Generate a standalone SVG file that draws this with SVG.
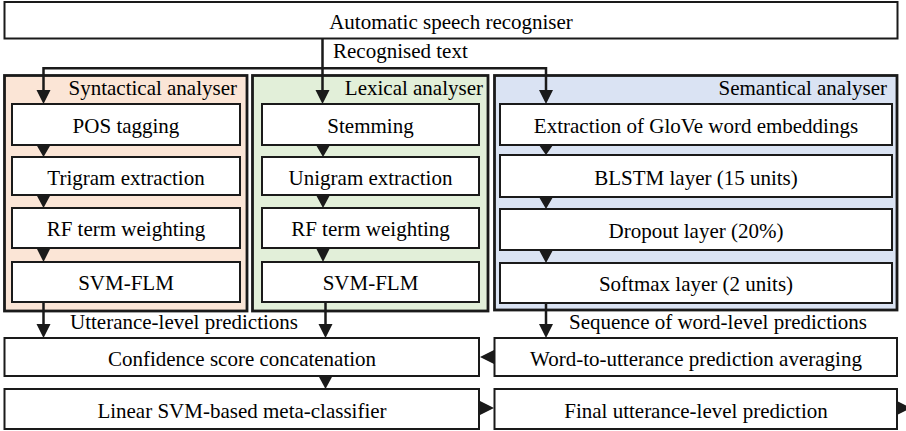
<svg xmlns="http://www.w3.org/2000/svg" width="906" height="431" viewBox="0 0 906 431">
<style>
.box{fill:#fff;stroke:#1a1a1a;stroke-width:2}
.grp{stroke:#1a1a1a;stroke-width:2.8}
.ln{fill:none;stroke:#1a1a1a;stroke-width:2.5}
.ah{fill:#1a1a1a;stroke:none}
</style>
<rect width="906" height="431" fill="#fff"/>

<g id="asr">
<rect class="box" x="4.5" y="2" width="893" height="36.5"/>
<text x="451" y="29" text-anchor="middle" font-family="Liberation Serif" font-size="21">Automatic speech recogniser</text>
</g>

<g id="syntactical">
<rect class="grp" x="4.5" y="75.5" width="242.5" height="235.5" fill="#fbe5d6"/>
<text x="237" y="95" text-anchor="end" font-family="Liberation Serif" font-size="21">Syntactical analyser</text>
<g id="pos"><rect class="box" x="12" y="104" width="228" height="41"/><text x="126" y="133" text-anchor="middle" font-family="Liberation Serif" font-size="21">POS tagging</text></g>
<g id="trigram"><rect class="box" x="12" y="157" width="228" height="38"/><text x="126" y="185" text-anchor="middle" font-family="Liberation Serif" font-size="21">Trigram extraction</text></g>
<g id="rf1"><rect class="box" x="12" y="208" width="228" height="40"/><text x="126" y="236" text-anchor="middle" font-family="Liberation Serif" font-size="21">RF term weighting</text></g>
<g id="svm1"><rect class="box" x="12" y="262" width="228" height="40"/><text x="126" y="290" text-anchor="middle" font-family="Liberation Serif" font-size="21">SVM-FLM</text></g>
</g>

<g id="lexical">
<rect class="grp" x="252.5" y="75.5" width="235.5" height="235.5" fill="#e2efd9"/>
<text x="483" y="95" text-anchor="end" font-family="Liberation Serif" font-size="21">Lexical analyser</text>
<g id="stem"><rect class="box" x="262" y="104" width="217" height="41"/><text x="370.5" y="133" text-anchor="middle" font-family="Liberation Serif" font-size="21">Stemming</text></g>
<g id="unigram"><rect class="box" x="262" y="157" width="217" height="38"/><text x="370.5" y="185" text-anchor="middle" font-family="Liberation Serif" font-size="21">Unigram extraction</text></g>
<g id="rf2"><rect class="box" x="262" y="208" width="217" height="40"/><text x="370.5" y="236" text-anchor="middle" font-family="Liberation Serif" font-size="21">RF term weighting</text></g>
<g id="svm2"><rect class="box" x="262" y="262" width="217" height="40"/><text x="370.5" y="290" text-anchor="middle" font-family="Liberation Serif" font-size="21">SVM-FLM</text></g>
</g>

<g id="semantical">
<rect class="grp" x="494.5" y="75.5" width="402.5" height="234.5" fill="#dae3f3"/>
<text x="887" y="95" text-anchor="end" font-family="Liberation Serif" font-size="21">Semantical analyser</text>
<g id="glove"><rect class="box" x="500" y="104" width="392" height="41"/><text x="696" y="133" text-anchor="middle" font-family="Liberation Serif" font-size="21">Extraction of GloVe word embeddings</text></g>
<g id="blstm"><rect class="box" x="500" y="155" width="392" height="42"/><text x="696" y="185" text-anchor="middle" font-family="Liberation Serif" font-size="21">BLSTM layer (15 units)</text></g>
<g id="dropout"><rect class="box" x="500" y="209" width="392" height="41"/><text x="696" y="238" text-anchor="middle" font-family="Liberation Serif" font-size="21">Dropout layer (20%)</text></g>
<g id="softmax"><rect class="box" x="500" y="263" width="392" height="40"/><text x="696" y="291" text-anchor="middle" font-family="Liberation Serif" font-size="21">Softmax layer (2 units)</text></g>
</g>

<g id="concat">
<rect class="box" x="4.5" y="338" width="474.5" height="38"/>
<text x="242" y="366" text-anchor="middle" font-family="Liberation Serif" font-size="21">Confidence score concatenation</text>
</g>
<g id="averaging">
<rect class="box" x="494.5" y="338" width="402.5" height="38"/>
<text x="696" y="366" text-anchor="middle" font-family="Liberation Serif" font-size="21">Word-to-utterance prediction averaging</text>
</g>
<g id="meta">
<rect class="box" x="4.5" y="389" width="474.5" height="40"/>
<text x="242" y="418" text-anchor="middle" font-family="Liberation Serif" font-size="21">Linear SVM-based meta-classifier</text>
</g>
<g id="final">
<rect class="box" x="494.5" y="389" width="402.5" height="40"/>
<text x="696" y="418" text-anchor="middle" font-family="Liberation Serif" font-size="21">Final utterance-level prediction</text>
</g>

<g id="connectors">
<text x="333" y="58" font-family="Liberation Serif" font-size="21">Recognised text</text>
<path class="ln" d="M322.5 38.5V92M43.5 90V68.3H546V90"/>
<path class="ah" d="M36.5 90h14l-7 14z M315.5 90h14l-7 14z M539 90h14l-7 14z"/>
<path class="ah" d="M36.5 145h14l-7 12z M36.5 195h14l-7 13z M36.5 248h14l-7 14z"/>
<path class="ah" d="M316 145h14l-7 12z M316 195h14l-7 13z M316 248h14l-7 14z"/>
<path class="ah" d="M539 145h14l-7 10z M539 197h14l-7 12z M539 250h14l-7 13z"/>
<text x="70" y="329" font-family="Liberation Serif" font-size="21">Utterance-level predictions</text>
<text x="569" y="329" font-family="Liberation Serif" font-size="21">Sequence of word-level predictions</text>
<path class="ln" d="M43.5 302V325M325.5 302V325M546 303V325"/>
<path class="ah" d="M36.5 324h14l-7 14z M318.5 324h14l-7 14z M539 324h14l-7 14z"/>
<path class="ah" d="M318.5 376h14l-7 13z"/>
<path class="ah" d="M494 350v14l-14 -7z"/>
<path class="ah" d="M480 401v14l14 -7z"/>
<path class="ah" d="M897 401v14l14 -7z"/>
</g>
</svg>
